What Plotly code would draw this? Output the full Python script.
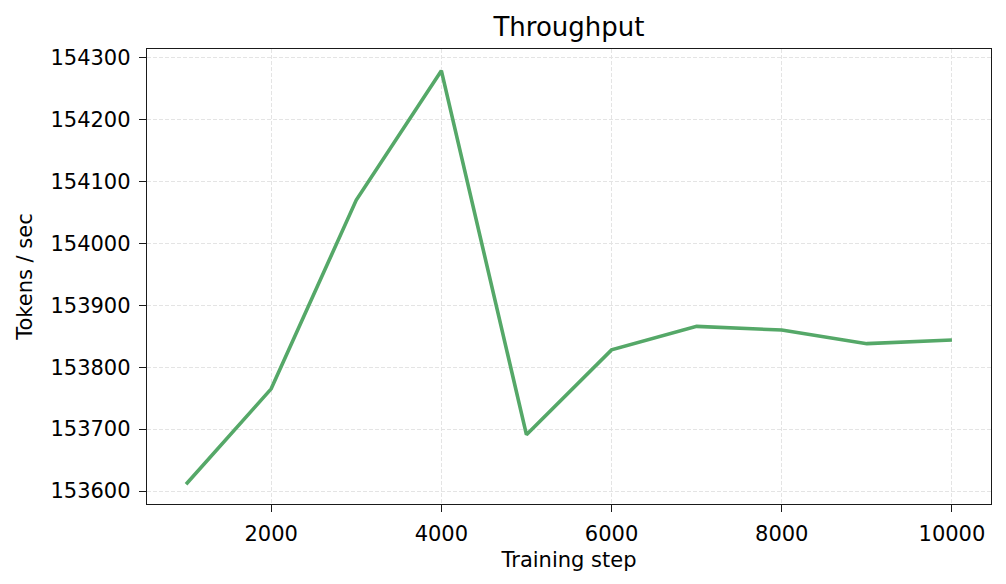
import plotly.graph_objects as go

steps = [1000, 2000, 3000, 4000, 5000, 6000, 7000, 8000, 9000, 10000]
tokens_per_sec = [153611, 153765, 154070, 154279, 153691, 153828, 153866, 153860, 153838, 153844]

x_ticks = [2000, 4000, 6000, 8000, 10000]
y_ticks = [153600, 153700, 153800, 153900, 154000, 154100, 154200, 154300]

fig = go.Figure()
fig.add_trace(go.Scatter(x=steps, y=tokens_per_sec, mode="lines",
                         line=dict(color="#55A868", width=3.6),
                         showlegend=False))

axis_style = dict(showline=True, linecolor="#1a1a1a", linewidth=1.4, mirror=True,
                  ticks="outside", ticklen=7, tickwidth=1.4, tickcolor="#1a1a1a",
                  showgrid=True, gridcolor="#e4e4e4", griddash="4px,2px", gridwidth=0.8,
                  zeroline=False, tickformat="d", ticklabelstandoff=4,
                  tickfont=dict(size=21, color="black"))

fig.update_xaxes(**axis_style, range=[541, 10459], tickvals=x_ticks,
                 title=dict(text="Training step", font=dict(size=21, color="black"), standoff=6))
fig.update_yaxes(**axis_style, range=[153579, 154314], tickvals=y_ticks,
                 title=dict(text="Tokens / sec", font=dict(size=21, color="black"), standoff=12))

fig.update_layout(
    width=1006, height=584,
    margin=dict(l=139, r=23, t=41, b=88),
    title=dict(text="Throughput", x=0.5, xanchor="center", xref="paper",
               y=0.967, yanchor="middle", font=dict(size=26, color="black")),
    font=dict(family="DejaVu Sans"),
    plot_bgcolor="white", paper_bgcolor="white",
)

fig.write_html("out.html")
